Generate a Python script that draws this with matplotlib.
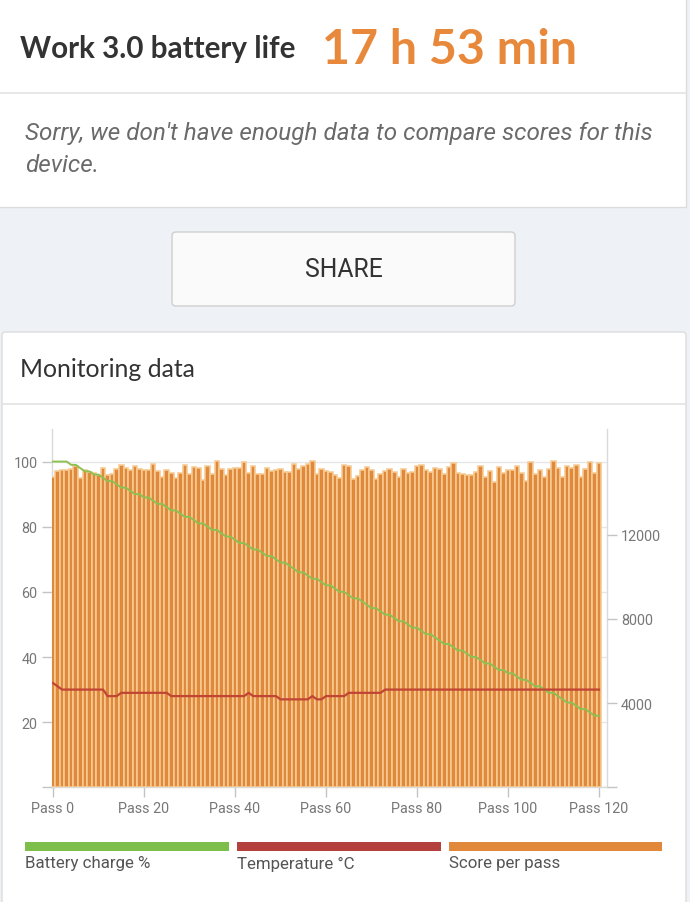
import matplotlib
matplotlib.use("Agg")
import matplotlib.pyplot as plt
from matplotlib.patches import Rectangle, FancyBboxPatch

# ---------------- data ----------------
passes = list(range(121))
pass_ticks = [0, 20, 40, 60, 80, 100, 120]
pass_labels = ["Pass 0", "Pass 20", "Pass 40", "Pass 60", "Pass 80", "Pass 100", "Pass 120"]
left_ticks = [0, 20, 40, 60, 80, 100]
left_labels = ["", "20", "40", "60", "80", "100"]
right_ticks = [0, 4000, 8000, 12000]
right_labels = ["", "4000", "8000", "12000"]

battery = [100, 100, 100, 100, 99, 99, 98, 97, 97, 96,
           96, 95, 94, 94, 93, 92, 92, 91, 90, 90,
           89, 89, 88, 87, 87, 86, 85, 85, 84, 83,
           83, 82, 81, 81, 80, 79, 79, 78, 77, 77,
           76, 75, 75, 74, 73, 73, 72, 71, 71, 70,
           69, 69, 68, 67, 66, 66, 65, 64, 64, 63,
           62, 62, 61, 60, 60, 59, 58, 58, 57, 56,
           55, 55, 54, 53, 53, 52, 51, 51, 50, 49,
           49, 48, 47, 47, 46, 45, 44, 44, 43, 42,
           42, 41, 40, 40, 39, 38, 38, 37, 36, 36,
           35, 35, 34, 33, 33, 32, 31, 31, 30, 29,
           29, 28, 27, 26, 26, 25, 24, 24, 23, 22,
           22]

temperature = [32, 31, 30, 30, 30, 30, 30, 30, 30, 30,
               30, 30, 28, 28, 28, 29, 29, 29, 29, 29,
               29, 29, 29, 29, 29, 29, 28, 28, 28, 28,
               28, 28, 28, 28, 28, 28, 28, 28, 28, 28,
               28, 28, 28, 29, 28, 28, 28, 28, 28, 28,
               27, 27, 27, 27, 27, 27, 27, 28, 27, 27,
               28, 28, 28, 28, 28, 29, 29, 29, 29, 29,
               29, 29, 29, 30, 30, 30, 30, 30, 30, 30,
               30, 30, 30, 30, 30, 30, 30, 30, 30, 30,
               30, 30, 30, 30, 30, 30, 30, 30, 30, 30,
               30, 30, 30, 30, 30, 30, 30, 30, 30, 30,
               30, 30, 30, 30, 30, 30, 30, 30, 30, 30,
               30]

score = [14730, 15000, 15080, 15080, 15130, 15240, 14700, 15080, 14970, 14920,
         14810, 15170, 14810, 14860, 15130, 15290, 15170, 15050, 15240, 15130,
         15080, 15050, 15340, 15010, 14760, 15080, 14920, 14700, 14920, 15290,
         14890, 15190, 15170, 14600, 15240, 14890, 15510, 15130, 14810, 15130,
         15170, 15170, 15440, 14920, 15240, 14860, 14890, 15170, 15000, 15080,
         15100, 14970, 14970, 15370, 15130, 15240, 15370, 15520, 14890, 15130,
         15010, 14970, 14810, 14700, 15320, 15240, 14650, 14780, 15080, 15190,
         15080, 14650, 14860, 15010, 15130, 14970, 14730, 15100, 14920, 14970,
         15240, 15290, 15050, 14970, 15170, 15100, 14890, 15190, 15390, 14920,
         14890, 14810, 14810, 14970, 15240, 14730, 15010, 14490, 15190, 14920,
         15080, 15080, 15240, 14920, 14570, 15440, 14860, 15050, 14760, 15130,
         15520, 15170, 14760, 15240, 15170, 15290, 14730, 15130, 15440, 14920,
         15390]

legend_names = ["Battery charge %", "Temperature \u00b0C", "Score per pass"]
legend_colors = ["#7dbf4a", "#b3403d", "#e2883a"]

# ---------------- figure ----------------
W, H = 690, 903
fig = plt.figure(figsize=(W / 100, H / 100), dpi=100)
fig.patch.set_facecolor("#eef2f6")

bg = fig.add_axes([0, 0, 1, 1], zorder=0)
bg.set_xlim(0, W)
bg.set_ylim(H, 0)
bg.axis("off")

# top panel
bg.add_patch(Rectangle((-2, -5), 688, 213, facecolor="white", edgecolor="#dcdcdc", lw=1))
bg.plot([0, 686], [94, 94], color="#e3e3e3", lw=1.2)
bg.text(20, 58, "Work 3.0 battery life", fontsize=21.3, fontweight="bold",
        family="Lato", color="#333333", va="baseline", ha="left")
bg.text(322, 64, "17 h 53 min", fontsize=34.8, fontweight="bold",
        family="Lato", color="#e8883a", va="baseline", ha="left")
bg.text(25, 140, "Sorry, we don't have enough data to compare scores for this",
        fontsize=17.5, style="italic", fontweight="normal", family="Roboto",
        color="#6a6a6a", va="baseline", ha="left")
bg.text(25, 172, "device.", fontsize=17.5, style="italic", fontweight="normal",
        family="Roboto", color="#6a6a6a", va="baseline", ha="left")

# share button
bg.add_patch(FancyBboxPatch((172, 233), 343, 74, boxstyle="round,pad=0,rounding_size=4",
                            facecolor="#fafafa", edgecolor="#cfcfcf", lw=1))
bg.text(343.5, 270, "SHARE", fontsize=17.8, family="Roboto", color="#333333",
        ha="center", va="center")

# monitoring panel
bg.add_patch(FancyBboxPatch((2, 333), 684, 580, boxstyle="round,pad=0,rounding_size=3",
                            facecolor="white", edgecolor="#dcdcdc", lw=1))
bg.plot([2, 686], [405, 405], color="#e3e3e3", lw=1.2)
bg.text(20, 377, "Monitoring data", fontsize=17.8, family="Lato", color="#333333",
        va="baseline", ha="left")

# legend
x0s = [25, 237, 449]
for i, (name, col) in enumerate(zip(legend_names, legend_colors)):
    bg.add_patch(Rectangle((x0s[i], 843), 204 if i < 2 else 213, 9, facecolor=col, edgecolor="none"))
    bg.text(x0s[i], 864, name, fontsize=12.2, family="Roboto", color="#555555",
            va="center", ha="left")

# ---------------- chart ----------------
rect = [52 / W, 1 - 788.3 / H, 554.5 / W, 358.3 / H]
axg = fig.add_axes(rect, zorder=1)
axb = fig.add_axes(rect, zorder=2, sharex=axg)
axl = fig.add_axes(rect, zorder=3, sharex=axg)

xmin, xmax = -0.22, 121.65
axg.set_xlim(xmin, xmax)
axg.set_ylim(0, 110)
axg.set_facecolor("white")
axg.set_yticks(left_ticks)
axg.set_yticklabels(left_labels)
axg.set_xticks(pass_ticks)
axg.set_xticklabels(pass_labels)
axg.grid(axis="y", color="#e6e6e6", lw=1)
axg.set_axisbelow(True)
axg.tick_params(axis="both", length=7, width=1, color="#c4c4c4",
                labelcolor="#777777", labelsize=10.4)
axg.tick_params(axis="y", pad=3.5)
axg.tick_params(axis="x", pad=3)
for lbl in axg.get_xticklabels() + axg.get_yticklabels():
    lbl.set_family("Roboto")
axg.spines["top"].set_visible(False)
for s in ["left", "right", "bottom"]:
    axg.spines[s].set_color("#dadada")
    axg.spines[s].set_linewidth(1)

# bars
axb.patch.set_visible(False)
axb.set_ylim(0, 17017)
axb.bar(passes, score, width=1.0, color="#e0883b", edgecolor="#f7cb92", linewidth=1.15)
axb.yaxis.tick_right()
axb.set_yticks(right_ticks)
axb.set_yticklabels(right_labels)
axb.tick_params(axis="y", length=7, width=1, color="#c4c4c4",
                labelcolor="#777777", labelsize=10.4, pad=3.5)
axb.tick_params(axis="x", bottom=False, labelbottom=False)
for lbl in axb.get_yticklabels():
    lbl.set_family("Roboto")
for s in axb.spines.values():
    s.set_visible(False)

# lines
axl.patch.set_visible(False)
axl.set_ylim(0, 110)
axl.plot(passes, battery, color="#8cc152", lw=1.4, solid_joinstyle="round")
axl.plot(passes, temperature, color="#c04535", lw=1.6, solid_joinstyle="round")
axl.set_xlim(xmin, xmax)
axl.tick_params(axis="both", bottom=False, left=False, labelbottom=False, labelleft=False)
for s in axl.spines.values():
    s.set_visible(False)

fig.savefig("out.png", dpi=100, facecolor=fig.get_facecolor())
